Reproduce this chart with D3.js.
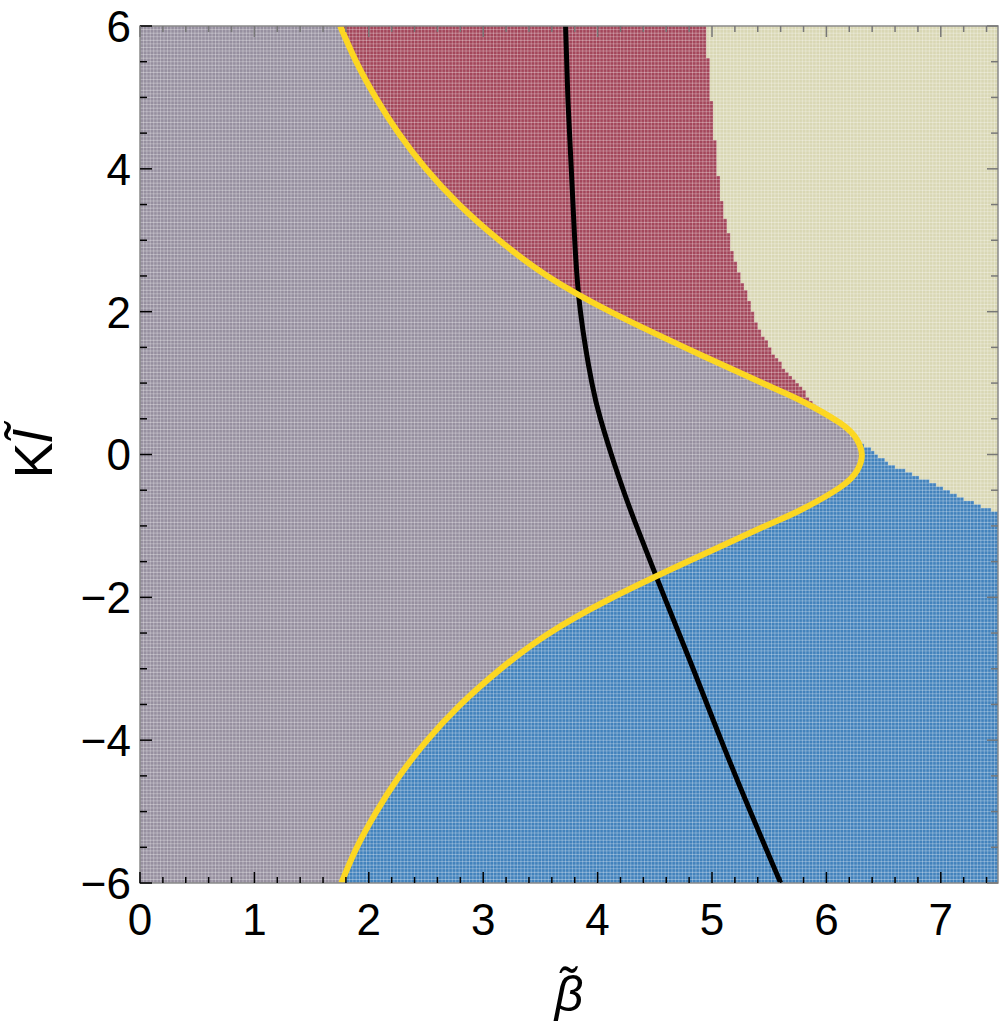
<!DOCTYPE html>
<html>
<head>
<meta charset="utf-8">
<script src="https://cdn.jsdelivr.net/npm/d3@7"></script>
<style>
  body { margin: 0; background: #fff; }
  text { font-family: "Liberation Sans", Arial, sans-serif; fill: #000; }
</style>
</head>
<body>
<svg id="chart" width="1000" height="1031"></svg>
<script>
// yellow curve, x as a function of y
var yellowY = [6.0, 5.5, 5.0, 4.5, 4.0, 3.5, 3.0, 2.5, 2.0, 1.5, 1.0, 0.76, 0.44, 0.20, -0.01,
               -0.22, -0.46, -0.78, -1.02, -1.52, -2.02, -2.52, -3.02, -3.52, -4.02, -4.52, -5.02, -5.52, -6.0];
var yellowX = [1.75, 1.89, 2.06, 2.26, 2.50, 2.79, 3.14, 3.56, 4.11, 4.76, 5.44, 5.77, 6.12, 6.27, 6.31,
               6.27, 6.12, 5.77, 5.44, 4.76, 4.11, 3.56, 3.14, 2.79, 2.50, 2.26, 2.06, 1.89, 1.76];

// beige region boundary (beige to the right of it)
var beigeY = [6.0, 5.43, 4.68, 4.0, 3.66, 2.86, 2.40, 1.785, 1.323, 0.945, 0.665, 0.203, -0.119, -0.399, -0.637, -0.819, -0.9];
var beigeX = [4.95, 4.97, 5.01, 5.05, 5.07, 5.175, 5.27, 5.40, 5.57, 5.77, 5.92, 6.28, 6.53, 6.93, 7.23, 7.49, 7.6];

// black curve
var blackY = [6.0, 5.0, 4.0, 3.0, 2.0, 1.0, 0.5, 0.0, -0.5, -1.0, -2.0, -3.0, -4.0, -5.0, -6.0];
var blackX = [3.72, 3.74, 3.77, 3.80, 3.85, 3.95, 4.025, 4.12, 4.225, 4.34, 4.585, 4.835, 5.08, 5.335, 5.60];

var regionColors = { gray: "#968f9f", red: "#a3465a", beige: "#d9d7b4", blue: "#4282bc" };
var xTicks = [0, 1, 2, 3, 4, 5, 6, 7];
var yTicks = [-6, -4, -2, 0, 2, 4, 6];

var margin = { left: 140, top: 26, right: 2, bottom: 148 };
var width = 1000 - margin.left - margin.right;
var height = 1031 - margin.top - margin.bottom;

var x = d3.scaleLinear().domain([0, 7.5]).range([0, width]);
var y = d3.scaleLinear().domain([-6, 6]).range([height, 0]);

var svg = d3.select("#chart").append("g")
    .attr("transform", "translate(" + margin.left + "," + margin.top + ")");

svg.append("clipPath").attr("id", "clip")
  .append("rect").attr("width", width).attr("height", height);

function interp(ys, xs, v) {
  if (v >= ys[0]) return xs[0];
  for (var k = 1; k < ys.length; k++) {
    if (v >= ys[k]) {
      var t = (v - ys[k - 1]) / (ys[k] - ys[k - 1]);
      return xs[k - 1] + t * (xs[k] - xs[k - 1]);
    }
  }
  return xs[xs.length - 1];
}

function classify(cx, cy) {
  if (cx >= interp(beigeY, beigeX, cy)) return "beige";
  if (cx < interp(yellowY, yellowX, cy)) return "gray";
  return cy > 0.22 ? "red" : "blue";
}

// grid of cells, merged into runs per row
var dx = 0.03, dy = 0.05;
var nx = Math.round(7.5 / dx), ny = Math.round(12 / dy);
var runs = [];
for (var j = 0; j < ny; j++) {
  var cy = 6 - (j + 0.5) * dy;
  var start = 0, cls = classify(0.5 * dx, cy);
  for (var i = 1; i <= nx; i++) {
    var c = i < nx ? classify((i + 0.5) * dx, cy) : null;
    if (c !== cls) {
      runs.push({ x0: start * dx, x1: i * dx, y0: 6 - j * dy, y1: 6 - (j + 1) * dy, cls: cls });
      start = i; cls = c;
    }
  }
}

var field = svg.append("g").attr("clip-path", "url(#clip)");
field.selectAll("rect.cell").data(runs).enter().append("rect")
    .attr("class", "cell")
    .attr("x", function(d) { return x(d.x0); })
    .attr("width", function(d) { return x(d.x1) - x(d.x0) + 0.4; })
    .attr("y", function(d) { return y(d.y0); })
    .attr("height", function(d) { return y(d.y1) - y(d.y0) + 0.4; })
    .attr("fill", function(d) { return regionColors[d.cls]; });

// mesh lines of the cell grid
field.selectAll("line.vm").data(d3.range(1, nx)).enter().append("line")
    .attr("x1", function(i) { return x(i * dx); }).attr("x2", function(i) { return x(i * dx); })
    .attr("y1", 0).attr("y2", height)
    .style("stroke", "#fff").style("stroke-opacity", 0.33).style("stroke-width", 0.9);
field.selectAll("line.hm").data(d3.range(1, ny)).enter().append("line")
    .attr("y1", function(j) { return y(6 - j * dy); }).attr("y2", function(j) { return y(6 - j * dy); })
    .attr("x1", 0).attr("x2", width)
    .style("stroke", "#fff").style("stroke-opacity", 0.33).style("stroke-width", 0.9);

var line = d3.line()
    .x(function(d) { return x(d[0]); })
    .y(function(d) { return y(d[1]); })
    .curve(d3.curveNatural);

field.append("path")
    .datum(d3.zip(blackX, blackY))
    .attr("d", line)
    .style("fill", "none").style("stroke", "#000").style("stroke-width", 5);

field.append("path")
    .datum(d3.zip(yellowX, yellowY))
    .attr("d", line)
    .style("fill", "none").style("stroke", "#fcd722").style("stroke-width", 6);

// frame
svg.append("rect").attr("width", width).attr("height", height)
    .style("fill", "none").style("stroke", "#8a8a8a").style("stroke-width", 1.5);

// ticks
var xMinor = d3.range(0, 7.51, 0.2).filter(function(v) { return Math.abs(v - Math.round(v)) > 1e-6; });
var yMinor = d3.range(-6, 6.01, 0.5).filter(function(v) { return Math.abs(v % 2) > 1e-6; });

function ticks(vals, len, color, side) {
  var horiz = side === "bottom" || side === "top";
  svg.append("g").selectAll("line").data(vals).enter().append("line")
    .attr("x1", function(v) { return horiz ? x(v) : (side === "left" ? 0 : width); })
    .attr("x2", function(v) { return horiz ? x(v) : (side === "left" ? len : width - len); })
    .attr("y1", function(v) { return horiz ? (side === "bottom" ? height : 0) : y(v); })
    .attr("y2", function(v) { return horiz ? (side === "bottom" ? height - len : len) : y(v); })
    .style("stroke", color).style("stroke-width", 1.5);
}
ticks(xTicks, 11, "#000", "bottom");
ticks(xMinor, 6, "#000", "bottom");
ticks(yTicks, 12, "#000", "left");
ticks(yMinor, 7, "#000", "left");
ticks(xTicks, 11, "#777", "top");
ticks(xMinor, 6, "#777", "top");
ticks(yTicks, 11, "#777", "right");
ticks(yMinor, 7, "#777", "right");

// tick labels
svg.selectAll("text.xl").data(xTicks).enter().append("text")
    .attr("x", function(v) { return x(v); })
    .attr("y", height + 52)
    .attr("text-anchor", "middle")
    .style("font-size", "44px")
    .text(function(v) { return v; });

svg.selectAll("text.yl").data(yTicks).enter().append("text")
    .attr("x", -9)
    .attr("y", function(v) { return y(v); })
    .attr("dy", "0.36em")
    .attr("text-anchor", "end")
    .style("font-size", "44px")
    .text(function(v) { return v < 0 ? "\u2212" + (-v) : v; });

// axis titles
svg.append("text")
    .attr("x", width / 2)
    .attr("y", height + 128)
    .attr("text-anchor", "middle")
    .style("font-size", "50px")
    .style("font-style", "italic")
    .text("\u03B2\u0303");

svg.append("text")
    .attr("transform", "translate(" + (-88) + "," + (height / 2) + ") rotate(-90)")
    .attr("text-anchor", "middle")
    .style("font-size", "54px")
    .html('K<tspan style="font-style:italic">l\u0303</tspan>');
</script>
</body>
</html>
